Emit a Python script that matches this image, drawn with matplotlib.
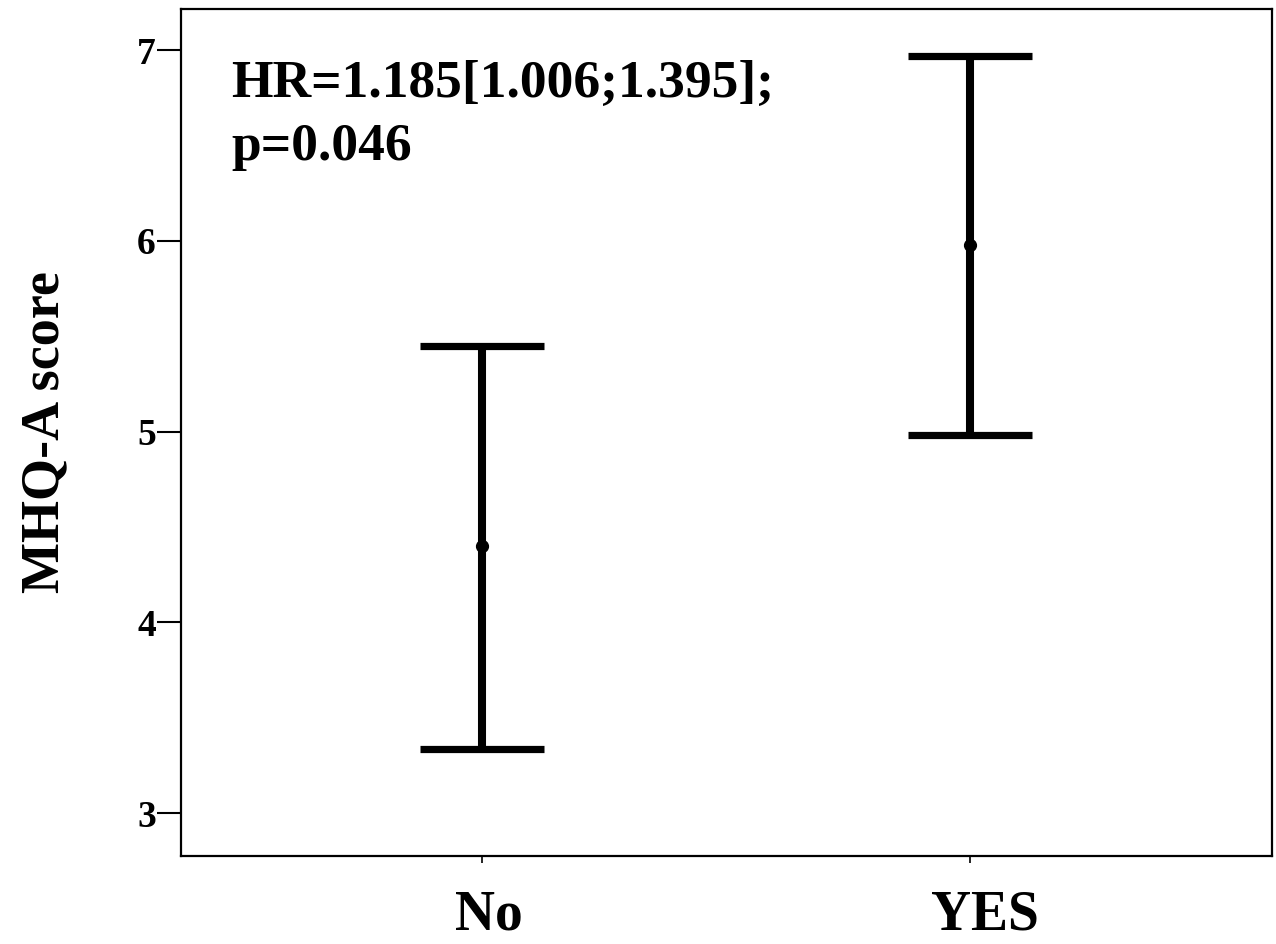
import matplotlib
matplotlib.use("Agg")
import matplotlib.pyplot as plt
from matplotlib.font_manager import FontProperties
import matplotlib.transforms as mtransforms
import numpy as np

categories = ["No", "YES"]
means = [4.40, 5.98]
lower = [3.335, 4.98]
upper = [5.45, 6.97]
yticks = [3, 4, 5, 6, 7]
annotation_lines = ["HR=1.185[1.006;1.395];", "p=0.046"]
ylabel = "MHQ-A score"

BOLD = "/usr/share/fonts/truetype/liberation/LiberationSerif-Bold.ttf"
def fp(size):
    return FontProperties(fname=BOLD, size=size)

fig = plt.figure(figsize=(12.76, 9.44), dpi=100)
ax = fig.add_axes([181/1276, 1-856/944, (1272-181)/1276, (856-9)/944])

x = np.arange(len(categories))
m = np.array(means)
yerr = np.vstack([m - np.array(lower), np.array(upper) - m])
ax.errorbar(x, m, yerr=yerr, fmt='o', color='black', ecolor='black',
            elinewidth=5.8, capsize=44.5, capthick=5.2, markersize=8.5)

ax.set_xlim(-0.615, 1.617)
ax.set_ylim(2.776, 7.215)
ax.set_yticks(yticks)
ax.set_yticklabels([str(t) for t in yticks], fontproperties=fp(27))
ax.set_xticks(x)
ax.set_xticklabels(categories, fontproperties=fp(40))
ax.tick_params(axis='y', length=17, width=1.5, pad=1)
ax.tick_params(axis='x', length=5, width=1.2, pad=19)
for s in ax.spines.values():
    s.set_linewidth(1.6)

for lab, dx in zip(ax.get_xticklabels(), [7, 15]):
    lab.set_transform(lab.get_transform() +
                      mtransforms.ScaledTranslation(dx / 100, 0, fig.dpi_scale_trans))

ax.set_ylabel(ylabel, fontproperties=fp(39), labelpad=48)

ax.text(0.0458, 0.896, annotation_lines[0], transform=ax.transAxes,
        fontproperties=fp(38.5), va='baseline', ha='left')
ax.text(0.0458, 0.822, annotation_lines[1], transform=ax.transAxes,
        fontproperties=fp(38.5), va='baseline', ha='left')

fig.savefig("out.png", dpi=100)
